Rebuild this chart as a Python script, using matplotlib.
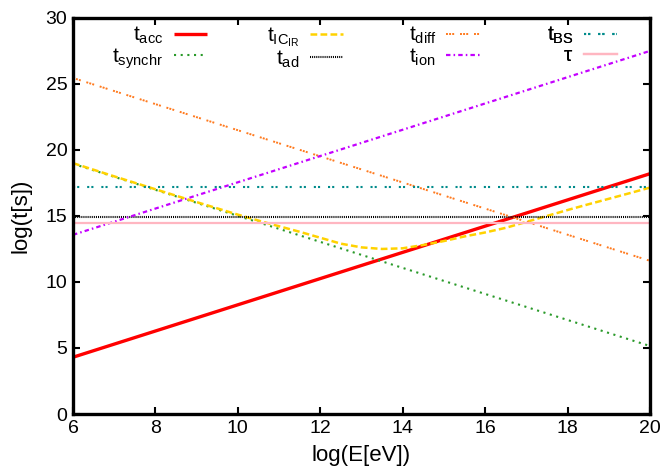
import numpy as np
import matplotlib
matplotlib.use("Agg")
import matplotlib.pyplot as plt

plt.rcParams["font.family"] = ["Liberation Sans", "DejaVu Sans"]
plt.rcParams["mathtext.fontset"] = "custom"
plt.rcParams["mathtext.rm"] = "Liberation Sans"
plt.rcParams["mathtext.it"] = "Liberation Sans"

# log(E[eV]) grid used for every curve
log_e = [6, 7, 8, 9, 10, 10.5, 11, 11.5, 12, 12.5, 13, 13.5, 14, 14.5,
         15, 15.5, 16, 16.5, 17, 17.5, 18, 18.5, 19, 19.5, 20]
log_e_ends = [6, 20]

# timescales, log(t[s])
t_acc = [4.3, 18.2]
t_synchr = [18.95, 5.15]
t_ic_ir = [19.0, 18.0, 17.02, 16.05, 15.1, 14.65, 14.22, 13.8, 13.35, 12.9,
           12.62, 12.5, 12.55, 12.8, 13.1, 13.45, 13.75, 14.1, 14.55, 15.0,
           15.45, 15.88, 16.3, 16.72, 17.15]
t_ad = [14.95, 14.95]
t_diff = [25.45, 11.6]
t_ion = [13.57, 27.5]
t_bs = [17.18, 17.18]
tau = [14.5, 14.5]

fig = plt.figure(figsize=(6.66, 4.71), dpi=100)
ax = fig.add_axes([0.1096, 0.121, 0.8664, 0.841])

l_acc, = ax.plot(log_e_ends, t_acc, color="#ff0000", lw=2.4,
                 solid_capstyle="butt", label=r"$\mathrm{t_{acc}}$")
l_syn, = ax.plot(log_e_ends, t_synchr, color="#2a9a2a", lw=1.5,
                 dashes=(1, 2.2), label=r"$\mathrm{t_{synchr}}$")
l_ic, = ax.plot(log_e, t_ic_ir, color="#ffd200", lw=1.8, dashes=(2.7, 1.3),
                label=r"$\mathrm{t_{IC_{IR}}}$")
l_ad, = ax.plot(log_e_ends, t_ad, color="black", lw=1.5, dashes=(0.5, 0.5),
                label=r"$\mathrm{t_{ad}}$")
l_diff, = ax.plot(log_e_ends, t_diff, color="#ff7a1e", lw=1.4,
                  dashes=(1, 0.6, 1, 0.6, 1, 3), label=r"$\mathrm{t_{diff}}$")
l_ion, = ax.plot(log_e_ends, t_ion, color="#c400ff", lw=1.6,
                 dashes=(2, 1.4, 0.7, 1.4), label=r"$\mathrm{t_{ion}}$")
l_bs, = ax.plot(log_e_ends, t_bs, color="#008b8b", lw=1.5,
                dashes=(1, 1, 1, 3.8), label=r"$\mathrm{t_{BS}}$")
l_tau, = ax.plot(log_e_ends, tau, color="#ffb6c1", lw=1.6,
                 label=r"$\mathrm{\tau}$")

ax.set_xlim(6, 20)
ax.set_ylim(0, 30)
ax.set_xticks(range(6, 21, 2))
ax.set_yticks(range(0, 31, 5))
ax.tick_params(direction="in", length=5, width=1.5, labelsize=14,
               top=True, right=True, pad=4)
for s in ax.spines.values():
    s.set_linewidth(2.4)

ax.set_xlabel("log(E[eV])", fontsize=16, labelpad=6)
ax.set_ylabel("log(t[s])", fontsize=16, labelpad=10)

# gnuplot-like key: four right-aligned columns of two entries
columns = [(l_acc, l_syn), (l_ic, l_ad), (l_diff, l_ion), (l_bs, l_tau)]
col_right = [0.232, 0.468, 0.705, 0.943]
for handles, xr in zip(columns, col_right):
    leg = ax.legend(handles=list(handles), loc="upper right",
                    bbox_to_anchor=(xr, 0.982), frameon=False,
                    markerfirst=False, fontsize=15, handlelength=1.6,
                    handletextpad=0.5, labelspacing=0.0,
                    borderaxespad=0.0, borderpad=0.0)
    ax.add_artist(leg)

plt.savefig("out.png", dpi=100)
plt.close()
